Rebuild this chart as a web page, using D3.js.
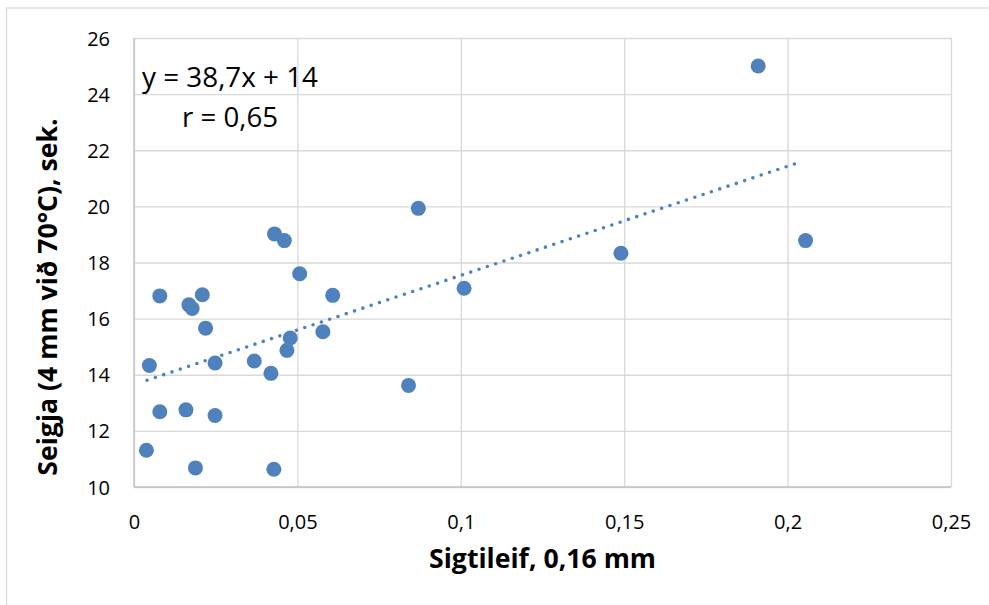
<!DOCTYPE html>
<html>
<head>
<meta charset="utf-8">
<script src="https://cdn.jsdelivr.net/npm/d3@7"></script>
<style>
  html, body { margin: 0; padding: 0; background: #fff; }
  svg { display: block; }
  text { font-family: "Open Sans", Lato, sans-serif; fill: #000; }
</style>
</head>
<body>
<svg id="chart" width="989" height="605"></svg>
<script>
// ---- data ----
const sigtileif = [0.191, 0.2055, 0.149, 0.087, 0.101, 0.084, 0.0079, 0.0209, 0.0168, 0.0178,
                   0.0219, 0.0047, 0.0248, 0.0368, 0.0419, 0.0468, 0.0478, 0.0578, 0.0608, 0.0507,
                   0.0079, 0.0159, 0.0248, 0.0038, 0.0188, 0.0428, 0.043, 0.046];
const seigja =    [25.0, 18.78, 18.33, 19.93, 17.08, 13.62, 16.81, 16.85, 16.49, 16.36,
                   15.66, 14.33, 14.42, 14.49, 14.05, 14.87, 15.31, 15.53, 16.83, 17.6,
                   12.68, 12.75, 12.55, 11.31, 10.68, 10.63, 19.02, 18.78];
const xTicks = [0, 0.05, 0.1, 0.15, 0.2, 0.25];
const xTickLabels = ["0", "0,05", "0,1", "0,15", "0,2", "0,25"];
const yTicks = [10, 12, 14, 16, 18, 20, 22, 24, 26];
const yTickLabels = ["10", "12", "14", "16", "18", "20", "22", "24", "26"];
const trendSlope = 38.9;
const trendIntercept = 13.65;
const trendRange = [0.004, 0.2035];
const equationText = "y = 38,7x + 14";
const rText = "r = 0,65";
const xTitle = "Sigtileif, 0,16 mm";
const yTitle = "Seigja (4 mm við 70°C), sek.";

// ---- layout ----
const W = 989, H = 605;
const m = { left: 134, top: 38, right: 38, bottom: 118 };
const svg = d3.select("#chart");

function fitWidth(sel, target) {
  const fs = +sel.attr("font-size");
  const w = sel.node().getComputedTextLength();
  if (w > 0) sel.attr("font-size", (fs * target / w).toFixed(2));
  return sel;
}

// outer chart border
svg.append("rect").attr("x", 6.5).attr("y", 8).attr("width", 1000).attr("height", 700)
  .attr("fill", "none").attr("stroke", "#d9d9d9").attr("stroke-width", 1.3);

const x = d3.scaleLinear().domain([0, 0.25]).range([m.left, W - m.right]);
const y = d3.scaleLinear().domain([10, 26]).range([H - m.bottom, m.top]);

const g = svg.append("g");

// gridlines
g.append("g").attr("transform", `translate(0,${H - m.bottom})`)
  .call(d3.axisBottom(x).tickValues(xTicks).tickSize(-(H - m.top - m.bottom)).tickFormat(""))
  .call(s => s.select(".domain").remove())
  .call(s => s.selectAll("line").attr("stroke", "#d9d9d9").attr("stroke-width", 1.3));
g.append("g").attr("transform", `translate(${m.left},0)`)
  .call(d3.axisLeft(y).tickValues(yTicks).tickSize(-(W - m.left - m.right)).tickFormat(""))
  .call(s => s.select(".domain").remove())
  .call(s => s.selectAll("line").attr("stroke", "#d9d9d9").attr("stroke-width", 1.3));

// axis lines
g.append("line").attr("x1", x(0)).attr("x2", x(0.25)).attr("y1", y(10)).attr("y2", y(10))
  .attr("stroke", "#bfbfbf").attr("stroke-width", 1.3);
g.append("line").attr("x1", x(0)).attr("x2", x(0)).attr("y1", y(10)).attr("y2", y(26))
  .attr("stroke", "#bfbfbf").attr("stroke-width", 1.3);

// tick labels
const xAx = g.append("g").attr("transform", `translate(0,${H - m.bottom})`)
  .call(d3.axisBottom(x).tickValues(xTicks).tickSize(0).tickPadding(0)
    .tickFormat((d, i) => xTickLabels[i]));
xAx.select(".domain").remove();
xAx.selectAll("text").attr("font-size", 20).attr("dy", null).attr("y", 42)
  .style("font-family", "'Open Sans', sans-serif");

const yAx = g.append("g").attr("transform", `translate(${m.left},0)`)
  .call(d3.axisLeft(y).tickValues(yTicks).tickSize(0).tickPadding(24)
    .tickFormat((d, i) => yTickLabels[i]));
yAx.select(".domain").remove();
yAx.selectAll("text").attr("font-size", 20).attr("dy", "0.35em")
  .style("font-family", "'Open Sans', sans-serif");

// trendline
const trendData = trendRange.map(v => [v, trendSlope * v + trendIntercept]);
g.append("path").datum(trendData)
  .attr("d", d3.line().x(d => x(d[0])).y(d => y(d[1])))
  .attr("fill", "none").attr("stroke", "#4f81bd").attr("stroke-width", 3.6)
  .attr("stroke-linecap", "round").attr("stroke-dasharray", "0 8.75");

// points
g.append("g").selectAll("circle").data(sigtileif.map((v, i) => [v, seigja[i]]))
  .join("circle")
  .attr("cx", d => x(d[0])).attr("cy", d => y(d[1])).attr("r", 7.5)
  .attr("fill", "#4f81bd");

// equation labels
fitWidth(svg.append("text").attr("x", 142).attr("y", 87).attr("font-size", 26).text(equationText), 176);
fitWidth(svg.append("text").attr("x", 182).attr("y", 127).attr("font-size", 26).text(rText), 96);

// axis titles
const xt = fitWidth(svg.append("text").attr("x", (x(0) + x(0.25)) / 2).attr("y", 568)
  .attr("text-anchor", "middle").attr("font-size", 24).attr("font-weight", "bold").text(xTitle), 227);
svg.append("text").attr("transform", `translate(57,297) rotate(-90)`)
  .attr("text-anchor", "middle").attr("font-size", xt.attr("font-size")).attr("font-weight", "bold").text(yTitle);
</script>
</body>
</html>
